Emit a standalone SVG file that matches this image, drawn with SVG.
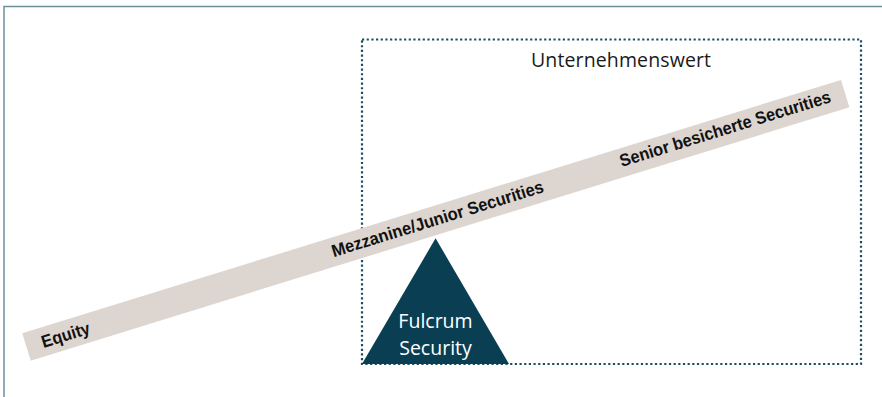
<svg xmlns="http://www.w3.org/2000/svg" width="882" height="397" viewBox="0 0 882 397">
<style>
.frame{fill:none;stroke:#6d8f9a;stroke-width:1.5}
.dots{fill:none;stroke:#1d4f63;stroke-width:2.2;stroke-dasharray:2.2 2.47}
.beam{fill:#ddd5cf}
.blabel{font-family:"Liberation Sans",Arial,sans-serif;font-weight:bold;font-size:17.5px;fill:#111111}
.title{font-family:"Open Sans","Noto Sans",sans-serif;font-size:19.5px;fill:#1a1a1a}
.tri{fill:#0a3f53}
.tlabel{font-family:"Open Sans","Noto Sans",sans-serif;font-size:19.5px;fill:#ffffff}
</style>
<g id="frame">
<path class="frame" d="M4,397 V6.5 H882"/>
</g>
<g id="enterprise-value">
<rect class="dots" x="362" y="39.5" width="499" height="324.5"/>
<text class="title" x="621" y="67" text-anchor="middle" textLength="180">Unternehmenswert</text>
</g>
<g id="beam" transform="translate(26.5,347) rotate(-17.2)">
<rect class="beam" x="0" y="-14.3" width="857" height="28.6"/>
<text class="blabel" x="16" y="6" textLength="50" lengthAdjust="spacingAndGlyphs">Equity</text>
<text class="blabel" x="320" y="5" textLength="221" lengthAdjust="spacingAndGlyphs">Mezzanine/Junior Securities</text>
<text class="blabel" x="622" y="4" textLength="220" lengthAdjust="spacingAndGlyphs">Senior besicherte Securities</text>
</g>
<g id="fulcrum">
<polygon class="tri" points="435.6,238.3 509,364 362,364"/>
<text class="tlabel" x="435.5" y="328.3" text-anchor="middle">Fulcrum</text>
<text class="tlabel" x="435.5" y="355" text-anchor="middle">Security</text>
</g>
<g id="connectors"></g>
</svg>
